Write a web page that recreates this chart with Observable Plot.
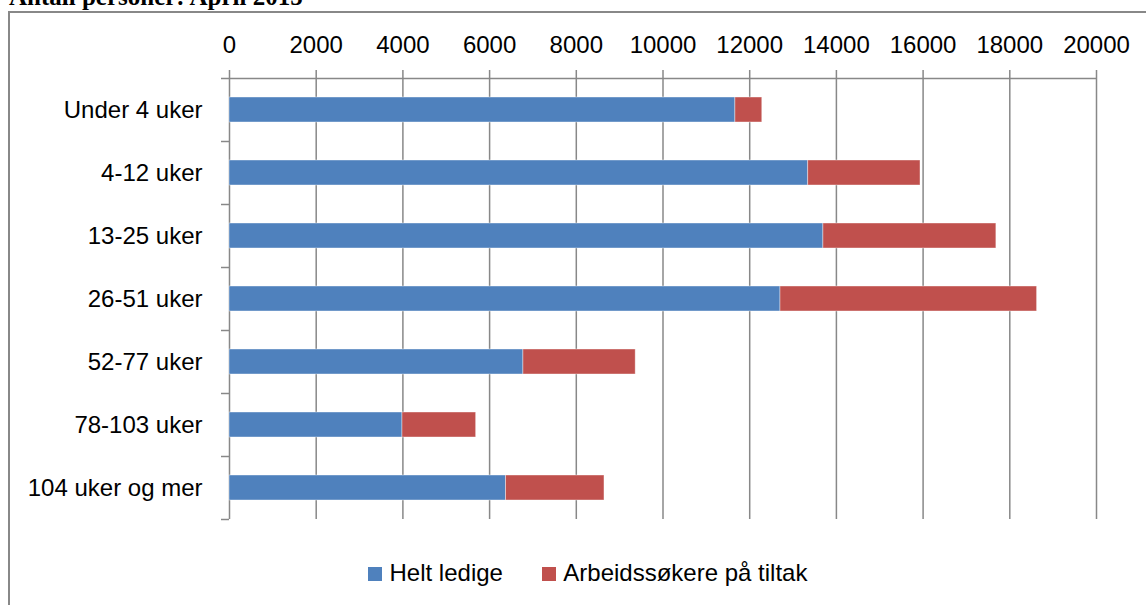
<!DOCTYPE html>
<html>
<head>
<meta charset="utf-8">
<script src="https://cdn.jsdelivr.net/npm/d3@7"></script>
<script src="https://cdn.jsdelivr.net/npm/@observablehq/plot@0.6"></script>
<style>
  html, body { margin: 0; padding: 0; background: #fff; overflow: hidden; }
  #wrap { position: relative; width: 1146px; height: 605px; overflow: hidden; font-family: "Liberation Sans", Arial, sans-serif; }
  #box { position: absolute; left: 8px; top: 11px; width: 1300px; height: 800px; border: 2px solid #888; box-sizing: border-box; }
  #title { position: absolute; left: 0; top: 0; }
  #chart { position: absolute; left: 0; top: 0; }
  #legend { position: absolute; left: 0; top: 0; width: 1146px; height: 605px; }
  .sw { position: absolute; width: 14px; height: 14px; }
  .lt { position: absolute; font-size: 24px; line-height: 24px; white-space: nowrap; color: #000; }
</style>
</head>
<body>
<div id="wrap">
  <div id="box"></div>
  <svg id="title" width="500" height="20"><text x="9" y="5" font-family="'Liberation Serif', 'Times New Roman', serif" font-weight="bold" font-size="25">Antall personer: April 2015</text></svg>
  <div id="chart"></div>
  <div id="legend"></div>
</div>
<script>
const categories = ["Under 4 uker", "4-12 uker", "13-25 uker", "26-51 uker", "52-77 uker", "78-103 uker", "104 uker og mer"];
const heltLedige = [11670, 13350, 13700, 12710, 6780, 3990, 6380];
const paTiltak   = [620, 2590, 3990, 5920, 2590, 1700, 2270];
const series = ["Helt ledige", "Arbeidssøkere på tiltak"];
const colors = ["#4F81BD", "#C0504D"];
const xTicks = [0, 2000, 4000, 6000, 8000, 10000, 12000, 14000, 16000, 18000, 20000];

const data = [];
categories.forEach((c, i) => {
  data.push({cat: c, series: series[0], value: heltLedige[i]});
  data.push({cat: c, series: series[1], value: paTiltak[i]});
});

const W = 1146, H = 605, mt = 78, mb = 86, ml = 229, mr = 50;
const pInner = 0.6, pOuter = 0.3;
const step = (H - mt - mb) / (categories.length - pInner + 2 * pOuter);
const gridColor = "#888";

const chart = Plot.plot({
  width: W, height: H,
  marginTop: mt, marginBottom: mb, marginLeft: ml, marginRight: mr,
  style: {fontFamily: '"Liberation Sans", Arial, sans-serif', fontSize: "24px", color: "#000", background: "transparent", overflow: "visible"},
  x: {domain: [xTicks[0], xTicks[xTicks.length - 1]], axis: null, label: null},
  y: {domain: categories, paddingInner: pInner, paddingOuter: pOuter, axis: null, label: null},
  color: {domain: series, range: colors},
  marks: [
    Plot.ruleX(xTicks, {x: d => d, stroke: gridColor, strokeWidth: 1.5, insetTop: -8}),
    Plot.ruleY([categories[0]], {y: d => d, x1: xTicks[0], x2: xTicks[xTicks.length - 1], dy: -step / 2, stroke: gridColor, strokeWidth: 1.5, insetLeft: -8}),
    Plot.barX(data, Plot.stackX({y: "cat", x: "value", fill: "series", order: series, stroke: "#fff", strokeOpacity: 0.5, strokeWidth: 0.8})),
    Plot.ruleY(categories, {y: d => d, x1: xTicks[0], x2: xTicks[0], insetLeft: -8, dy: step / 2, stroke: gridColor, strokeWidth: 1.5}),
    Plot.axisX({anchor: "top", ticks: xTicks, tickSize: 0, tickPadding: 26, tickFormat: d => String(d), fontSize: 24, label: null}),
    Plot.axisY({anchor: "left", tickSize: 0, tickPadding: 27, fontSize: 24, label: null})
  ]
});
document.getElementById("chart").appendChild(chart);

// legend
const legend = document.getElementById("legend");
const legendItems = [
  {sx: 367.5, tx: 389.5},
  {sx: 541.7, tx: 563.3}
];
series.forEach((s, i) => {
  const sw = document.createElement("div");
  sw.className = "sw";
  sw.style.left = legendItems[i].sx + "px";
  sw.style.top = "567px";
  sw.style.background = colors[i];
  legend.appendChild(sw);
  const t = document.createElement("div");
  t.className = "lt";
  t.style.left = legendItems[i].tx + "px";
  t.style.top = "560.7px";
  t.textContent = s;
  legend.appendChild(t);
});
</script>
</body>
</html>
